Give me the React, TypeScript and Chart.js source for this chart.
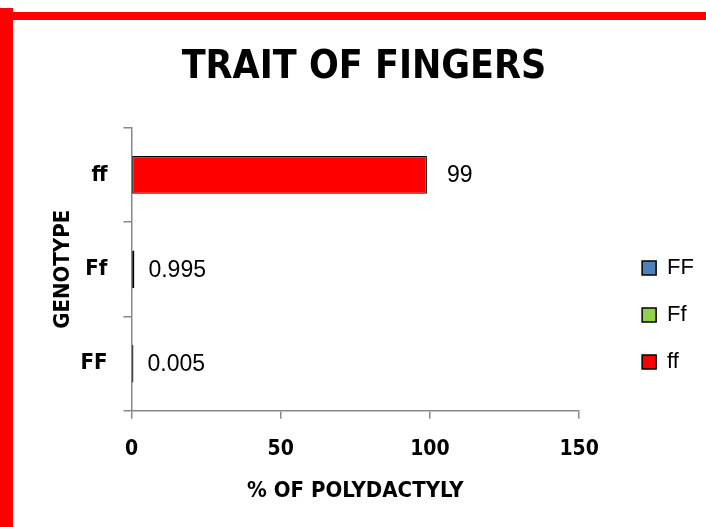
import React, { useEffect, useRef } from "react";
import { Chart, registerables } from "chart.js";

Chart.register(...registerables);

const categories = ["FF", "Ff", "ff"];
const seriesNames = ["FF", "Ff", "ff"];
const ffDominant = [0.005, null, null];
const ffHetero = [null, 0.995, null];
const ffRecessive = [null, null, 99];
const seriesColors = ["#4F81BD", "#92D050", "#FF0000"];
const xTicks = [0, 50, 100, 150];

const NARROW = "'Liberation Sans Narrow', 'Arial Narrow', 'DejaVu Sans Condensed', sans-serif";
const REG = "'Liberation Sans', Arial, sans-serif";

const dataLabels = {
  id: "dataLabels",
  afterLayout(chart: any) {
    if (chart.legend) {
      chart.legend.left += 38;
      chart.legend.right += 38;
    }
  },
  afterDatasetsDraw(chart: any) {
    const ctx = chart.ctx;
    ctx.save();
    ctx.fillStyle = "#000";
    ctx.font = `23px ${REG}`;
    ctx.textBaseline = "middle";
    ctx.textAlign = "left";
    chart.data.datasets.forEach((ds: any, i: number) => {
      const meta = chart.getDatasetMeta(i);
      meta.data.forEach((el: any, j: number) => {
        const v = ds.data[j];
        if (v === null || v === undefined) return;
        const off = v > 10 ? 20 : 14;
        ctx.fillText(String(v), el.x + off, el.y + 1);
      });
    });
    ctx.restore();
  },
};

export default function App() {
  const ref = useRef<HTMLCanvasElement>(null);
  useEffect(() => {
    if (!ref.current) return;
    const chart = new Chart(ref.current, {
      type: "bar",
      data: {
        labels: categories,
        datasets: [ffDominant, ffHetero, ffRecessive].map((d, i) => ({
          label: seriesNames[i],
          data: d as any,
          backgroundColor: seriesColors[i],
          borderColor: "#000",
          borderWidth: 1.2,
          borderSkipped: false,
          minBarLength: 2,
          categoryPercentage: 1,
          barPercentage: 0.4,
        })),
      },
      options: {
        indexAxis: "y",
        animation: false,
        responsive: false,
        maintainAspectRatio: false,
        layout: { padding: { top: 18, left: 62, right: 40, bottom: 21 } },
        scales: {
          x: {
            min: 0,
            max: 150,
            stacked: true,
            afterBuildTicks: (s: any) => {
              s.ticks = xTicks.map((v) => ({ value: v }));
            },
            grid: { drawOnChartArea: false, tickLength: 8, color: "#888", lineWidth: 1.5 },
            border: { color: "#888", width: 1.5 },
            ticks: { color: "#000", font: { family: NARROW, size: 21, weight: "bold" }, padding: 18 },
            title: {
              display: true,
              text: "% OF POLYDACTYLY",
              color: "#000",
              font: { family: NARROW, size: 22, weight: "bold", lineHeight: 1 },
              padding: { top: 0 },
            },
          },
          y: {
            stacked: true,
            reverse: true,
            grid: { drawOnChartArea: false, offset: true, tickLength: 8, color: "#888", lineWidth: 1.5 },
            border: { color: "#888", width: 1.5 },
            ticks: { color: "#000", font: { family: NARROW, size: 22, weight: "bold" }, padding: 16 },
            title: {
              display: true,
              text: "GENOTYPE",
              color: "#000",
              font: { family: NARROW, size: 22, weight: "bold" },
              padding: { top: -12, bottom: -12 },
            },
          },
        },
        plugins: {
          title: {
            display: true,
            text: "TRAIT OF FINGERS",
            color: "#000",
            font: { family: NARROW, size: 39, weight: "bold" },
            padding: { top: 26, bottom: 37 },
          },
          legend: {
            position: "right",
            title: { display: true, text: "", font: { size: 10 }, padding: { top: 0, bottom: 94 } },
            labels: {
              color: "#000",
              font: { family: REG, size: 22 },
              boxWidth: 14,
              boxHeight: 14,
              padding: 25,
              useBorderRadius: false,
              generateLabels: (c: any) =>
                c.data.datasets.map((ds: any, i: number) => ({
                  text: ds.label,
                  fillStyle: ds.backgroundColor,
                  strokeStyle: "#000",
                  lineWidth: 1.5,
                  hidden: false,
                  datasetIndex: i,
                  fontColor: "#000",
                })),
            },
          },
          tooltip: { enabled: false },
        },
      },
      plugins: [dataLabels],
    });
    return () => chart.destroy();
  }, []);
  return (
    <div style={{ position: "fixed", left: 0, top: 0, width: 706, height: 527, background: "#fff" }}>
      <canvas ref={ref} width={706} height={527} style={{ position: "absolute", left: 0, top: 0 }} />
      <div style={{ position: "absolute", left: 4, top: 12, width: 702, height: 8, background: "#FF0000" }} />
      <div style={{ position: "absolute", left: 0, top: 8, width: 13, height: 519, background: "#FF0000" }} />
    </div>
  );
}
